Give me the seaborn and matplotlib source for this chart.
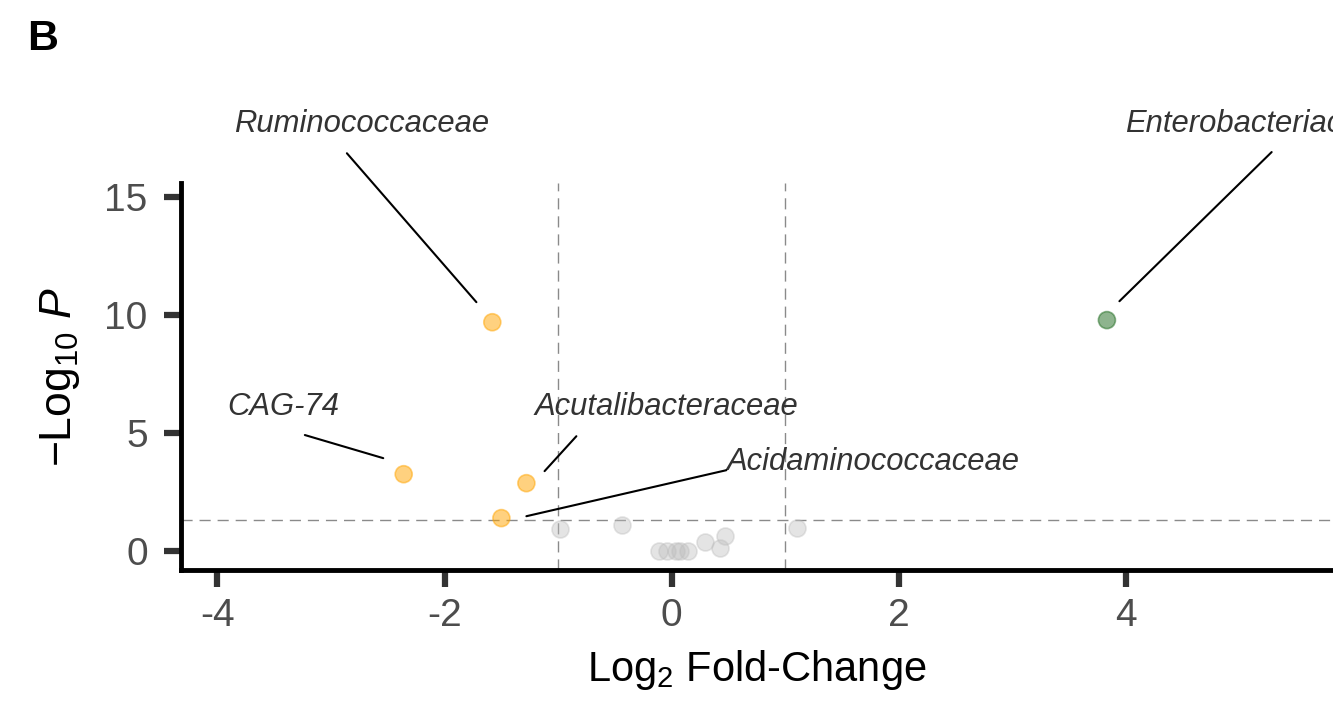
import matplotlib
matplotlib.use("Agg")
import matplotlib.pyplot as plt
import seaborn as sns
import pandas as pd
import numpy as np

# ---- data ----
families = ["Ruminococcaceae", "Enterobacteriaceae", "CAG-74", "Acutalibacteraceae",
            "Acidaminococcaceae"]
log2fc_sig = [-1.58, 3.83, -2.36, -1.28, -1.50]
neglogp_sig = [9.70, 9.79, 3.26, 2.88, 1.40]
group_sig = ["down", "up", "down", "down", "down"]

log2fc_ns = [-0.98, -0.44, -0.11, -0.04, 0.04, 0.07, 0.14, 0.29, 0.42, 0.47, 1.10]
neglogp_ns = [0.92, 1.10, 0.0, 0.0, 0.0, 0.0, 0.0, 0.40, 0.14, 0.65, 1.00]

fc_cutoff = 1.0
p_cutoff = 0.05

# label text positions (x, y) and leader segment ends (start near text, end near point)
label_pos = [(-2.73, 18.1), (5.17, 18.1), (-3.42, 6.1), (-0.05, 6.1), (1.77, 3.77)]
seg_start = [(-2.86, 16.86), (5.28, 16.91), (-3.23, 4.92), (-0.84, 4.87), (0.48, 3.43)]
seg_end = [(-1.72, 10.55), (3.94, 10.59), (-2.54, 3.94), (-1.12, 3.39), (-1.28, 1.48)]

df_sig = pd.DataFrame({"fc": log2fc_sig, "p": neglogp_sig, "grp": group_sig, "name": families})
df_ns = pd.DataFrame({"fc": log2fc_ns, "p": neglogp_ns})

sns.set_style("white")
plt.rcParams["font.family"] = ["Liberation Sans", "DejaVu Sans"]
plt.rcParams["axes.unicode_minus"] = False
plt.rcParams["mathtext.fontset"] = "custom"
plt.rcParams["mathtext.rm"] = "Liberation Sans"
plt.rcParams["mathtext.it"] = "Liberation Sans:italic"

fig = plt.figure(figsize=(13.33, 7.02), dpi=100)
ax = fig.add_axes([0.1358, 0.188, 0.8642, 0.551])

ax.axvline(-fc_cutoff, color="#8a8a8a", lw=1, ls=(0, (8, 5)), zorder=1)
ax.axvline(fc_cutoff, color="#8a8a8a", lw=1, ls=(0, (8, 5)), zorder=1)
ax.axhline(-np.log10(p_cutoff), color="#8a8a8a", lw=1, ls=(0, (8, 5)), zorder=1)

sns.scatterplot(data=df_ns, x="fc", y="p", color="#bdbdbd", alpha=0.4, s=150,
                edgecolor="#bdbdbd", linewidth=1.2, ax=ax, zorder=2, legend=False)
sns.scatterplot(data=df_sig, x="fc", y="p", hue="grp",
                palette={"down": "#ffa500", "up": "#1e6b1e"}, alpha=0.5, s=150,
                linewidth=1.2, ax=ax, zorder=3, legend=False)
for coll in ax.collections[-1:]:
    coll.set_edgecolor(coll.get_facecolor())

for name, (tx, ty), (sx, sy), (ex, ey) in zip(families, label_pos, seg_start, seg_end):
    ax.text(tx, ty, name, fontsize=22.3, style="italic", color="#333333",
            ha="center", va="center", clip_on=False)
    ax.plot([sx, ex], [sy, ey], color="black", lw=1.5, clip_on=False, zorder=4)

ax.set_xlim(-4.32, 5.82)
ax.set_ylim(-0.8, 15.59)
ax.set_xticks([-4, -2, 0, 2, 4])
ax.set_yticks([0, 5, 10, 15])
ax.tick_params(axis="both", labelsize=28, labelcolor="#4d4d4d", length=12, width=4.5,
               color="#333333", direction="out", bottom=True, left=True)
ax.tick_params(axis="y", pad=12)
ax.tick_params(axis="x", pad=8)
for side in ["top", "right"]:
    ax.spines[side].set_visible(False)
for side in ["left", "bottom"]:
    ax.spines[side].set_linewidth(3.5)
    ax.spines[side].set_color("black")

ax.set_xlabel(r"Log$_2$ Fold-Change", fontsize=30, color="black", labelpad=10)
ax.set_ylabel(r"$-$Log$_{10}$ $\mathit{P}$", fontsize=32, color="black", labelpad=16)

fig.text(0.02, 0.945, "B", fontsize=31, fontweight="bold", color="black", va="center")

fig.savefig("out.png", dpi=100)
